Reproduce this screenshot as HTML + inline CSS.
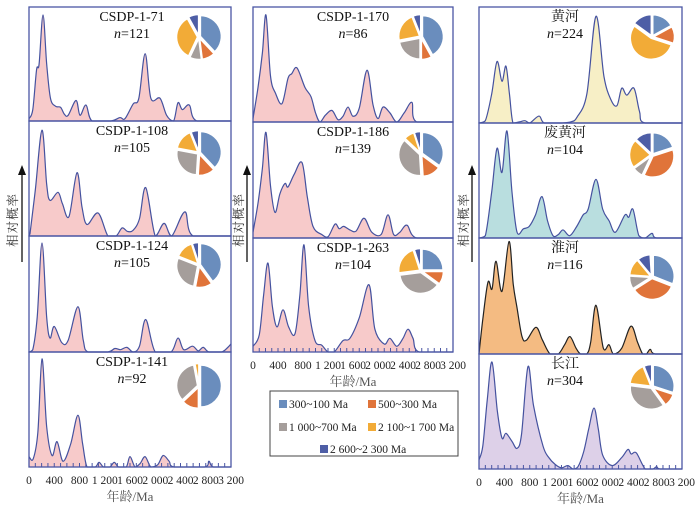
<!DOCTYPE html>
<html><head><meta charset="utf-8">
<style>
body{margin:0;background:#fff;}
svg{display:block;font-family:"Liberation Serif","Noto Serif CJK SC",serif;}
</style></head>
<body>
<svg id="fig" width="700" height="514" viewBox="0 0 700 514" xmlns="http://www.w3.org/2000/svg"></svg>
<script>
// ---- data: ages (Ma) and relative probability (0..1 of panel height) ----
const ages71=[0,60,120,160,222,280,340,420,500,560,620,745,808,903,1000,1300,1440,1520,1650,1740,1840,1930,2075,2180,2290,2360,2430,2540,2660,3200];
const vals71=[0.02,0.1,0.45,0.5,0.93,0.5,0.2,0.13,0.12,0.06,0.05,0.18,0.05,0.14,0,0,0.03,0.02,0.15,0.2,0.59,0.2,0.2,0.05,0,0.16,0.1,0.14,0,0];
const ages108=[0,16,100,206,280,333,460,530,634,760,840,920,1095,1250,1380,1475,1560,1650,1750,1850,2000,2140,2260,2470,2600,3200];
const vals108=[0,0.02,0.4,0.92,0.45,0.31,0.38,0.28,0.17,0.55,0.25,0.1,0.2,0,0,0.07,0.04,0.05,0.15,0.42,0,0.11,0,0.21,0,0];
const ages124=[0,60,130,206,280,333,400,520,620,775,860,935,1250,1360,1450,1550,1650,1750,1850,2000,2250,2360,2450,2590,2680,2760,2850,3050,3150,3200];
const vals124=[0,0.02,0.3,0.94,0.3,0.12,0.22,0.08,0.1,0.39,0.1,0,0,0.03,0.02,0.04,0,0.05,0.28,0,0,0.12,0.02,0.05,0.01,0.04,0,0,0.04,0.07];
const ages141=[0,66,140,206,280,365,444,540,660,775,850,920,1050,1110,1180,1280,1350,1420,1540,1600,1680,1760,1840,1930,2040,2125,2220,2300,2780,2850,2920,3200];
const vals141=[0.09,0.07,0.3,0.94,0.35,0.1,0.22,0.05,0.2,0.45,0.2,0,0,0.04,0,0,0.04,0,0,0.09,0,0.03,0.09,0,0.02,0.1,0.05,0,0,0.05,0,0];
const ages170=[0,80,150,208,280,360,464,560,620,704,832,928,1000,1072,1160,1264,1360,1440,1520,1600,1700,1824,1920,2000,2080,2190,2300,2420,2544,2620,3200];
const vals170=[0.03,0.3,0.6,0.93,0.4,0.25,0.16,0.38,0.42,0.47,0.3,0.22,0.08,0,0.06,0.1,0.02,0.05,0.13,0.05,0.12,0.45,0.15,0.03,0.13,0.08,0,0.08,0.17,0,0];
const ages186=[0,80,150,208,280,352,430,512,560,660,784,870,960,1100,1200,1312,1380,1450,1550,1650,1776,1900,2050,2160,2250,2350,2464,2620,3200];
const vals186=[0.05,0.3,0.6,0.91,0.45,0.22,0.38,0.47,0.44,0.55,0.65,0.35,0.1,0.03,0.01,0.12,0.08,0.1,0.07,0.06,0.17,0.05,0.03,0.2,0.03,0.05,0.11,0,0];
const ages263=[0,100,170,240,310,384,480,570,672,750,816,890,992,1100,1200,1300,1440,1550,1700,1856,1950,2100,2190,2300,2400,2480,2560,2660,3200];
const vals263=[0.05,0.15,0.5,0.78,0.4,0.22,0.37,0.22,0.16,0.5,0.94,0.4,0.1,0.06,0,0,0.1,0.12,0.3,0.59,0.2,0.07,0.12,0.05,0.12,0.2,0.12,0,0];
const agesHH=[0,100,200,284,362,425,480,536,640,725,800,946,1030,1300,1450,1545,1700,1844,1970,2080,2175,2250,2330,2443,2530,2617,3200];
const valsHH=[0,0.02,0.25,0.53,0.36,0.49,0.25,0,0.01,0.02,0,0.06,0,0,0.01,0.05,0.25,0.92,0.4,0.2,0.15,0.3,0.24,0.3,0.1,0,0];
const agesFHH=[0,100,200,284,362,441,520,600,700,790,890,993,1080,1167,1250,1325,1430,1540,1640,1720,1844,1950,2050,2150,2300,2360,2427,2520,2620,2727,2800,3200];
const valsFHH=[0,0.02,0.4,0.78,0.57,0.93,0.4,0.05,0.08,0.1,0.2,0.36,0.15,0.02,0.03,0.07,0.02,0.1,0.2,0.25,0.51,0.25,0.15,0.05,0.2,0.18,0.25,0.02,0,0.04,0,0];
const agesHuai=[0,60,142,205,268,362,473,540,599,678,750,899,1000,1120,1250,1350,1434,1530,1600,1700,1760,1844,1960,2050,2120,2250,2396,2500,2580,2640,2700,2780,3200];
const valsHuai=[0,0.3,0.62,0.56,0.8,0.54,0.97,0.6,0.4,0.15,0.12,0.23,0.12,0,0,0.08,0.15,0.05,0,0,0.1,0.42,0.05,0.08,0,0.05,0.24,0.1,0,0,0.04,0,0];
const agesCJ=[0,60,130,205,290,362,425,520,600,670,772,860,1009,1100,1200,1300,1400,1480,1560,1650,1730,1813,1880,1950,2100,2250,2348,2400,2480,2620,2740,2800,2860,3200];
const valsCJ=[0.08,0.2,0.6,0.93,0.5,0.27,0.31,0.24,0.18,0.3,0.89,0.55,0.2,0.1,0.04,0.01,0.03,0,0.02,0.15,0.35,0.53,0.35,0.12,0.03,0.1,0.17,0.13,0.14,0,0,0.02,0,0];
// pie fractions: 300~100, 500~300, 1000~700, 2100~1700, 2600~2300
const pie71=[0.38,0.10,0.09,0.35,0.08];
const pie108=[0.38,0.13,0.27,0.16,0.06];
const pie124=[0.40,0.13,0.28,0.14,0.05];
const pie141=[0.50,0.13,0.34,0.03,0.0];
const pie170=[0.42,0.08,0.22,0.22,0.06];
const pie186=[0.35,0.14,0.38,0.08,0.05];
const pie263=[0.25,0.10,0.38,0.22,0.05];
const pieHH=[0.17,0.13,0.0,0.55,0.15];
const pieFHH=[0.20,0.37,0.08,0.22,0.13];
const pieHuai=[0.31,0.35,0.10,0.13,0.10];
const pieCJ=[0.30,0.10,0.37,0.17,0.06];
const tickLabels=["0","400","800","1 200","1 600","2 000","2 400","2 800","3 200"];
const legendLabels=["300~100 Ma","500~300 Ma","1 000~700 Ma","2 100~1 700 Ma","2 600~2 300 Ma"];
const pieColors=["#6a8dbd","#e0743a","#a59e9b","#f2ab37","#4e5ea6"];

const NS="http://www.w3.org/2000/svg";
const svg=document.getElementById('fig');
function mk(tag,attrs,parent){const e=document.createElementNS(NS,tag);for(const k in attrs)e.setAttribute(k,attrs[k]);(parent||svg).appendChild(e);return e;}

const cols=[{x0:29,x1:231},{x0:253,x1:453},{x0:479,x1:682}];
const panels=[
 {c:0,y0:7,y1:121,t:"CSDP-1-71",n:"121",a:ages71,v:vals71,p:pie71,fill:"#f7caca",stroke:"#45529f",pc:[199,37],name:"csdp-1-71"},
 {c:0,y0:121,y1:236,t:"CSDP-1-108",n:"105",a:ages108,v:vals108,p:pie108,fill:"#f7caca",stroke:"#45529f",pc:[199,153],name:"csdp-1-108"},
 {c:0,y0:236,y1:352,t:"CSDP-1-124",n:"105",a:ages124,v:vals124,p:pie124,fill:"#f7caca",stroke:"#45529f",pc:[199,265],name:"csdp-1-124"},
 {c:0,y0:352,y1:467,t:"CSDP-1-141",n:"92",a:ages141,v:vals141,p:pie141,fill:"#f7caca",stroke:"#45529f",pc:[199,386],name:"csdp-1-141"},
 {c:1,y0:7,y1:122,t:"CSDP-1-170",n:"86",a:ages170,v:vals170,p:pie170,fill:"#f7caca",stroke:"#45529f",pc:[421,37],name:"csdp-1-170"},
 {c:1,y0:122,y1:238,t:"CSDP-1-186",n:"139",a:ages186,v:vals186,p:pie186,fill:"#f7caca",stroke:"#45529f",pc:[421,154],name:"csdp-1-186"},
 {c:1,y0:238,y1:352,t:"CSDP-1-263",n:"104",a:ages263,v:vals263,p:pie263,fill:"#f7caca",stroke:"#45529f",pc:[421,271],name:"csdp-1-263"},
 {c:2,y0:7,y1:123,t:"黄河",n:"224",a:agesHH,v:valsHH,p:pieHH,fill:"#f7efc6",stroke:"#45529f",pc:[652,37],name:"yellow-river"},
 {c:2,y0:123,y1:238,t:"废黄河",n:"104",a:agesFHH,v:valsFHH,p:pieFHH,fill:"#b9dedf",stroke:"#45529f",pc:[652,155],name:"abandoned-yellow-river"},
 {c:2,y0:238,y1:354,t:"淮河",n:"116",a:agesHuai,v:valsHuai,p:pieHuai,fill:"#f4bb82",stroke:"#222",pc:[652,277],name:"huai-river"},
 {c:2,y0:354,y1:469,t:"长江",n:"304",a:agesCJ,v:valsCJ,p:pieCJ,fill:"#ddd0e8",stroke:"#45529f",pc:[652,387],name:"yangtze-river"}
];
const titleX=[132,353,565];

function xScale(col,age){return col.x0+(age/3200)*(col.x1-col.x0);}
function yScale(p,v){return p.y1-v*(p.y1-p.y0);}

panels.forEach(p=>{
  const col=cols[p.c];
  const g=mk('g',{});
  
  
  const pts=p.a.map((a,i)=>[xScale(col,a),yScale(p,p.v[i])]);
  let d="M"+pts[0][0]+","+pts[0][1];
  for(let i=0;i<pts.length-1;i++){
    const p0=pts[Math.max(0,i-1)],p1=pts[i],p2=pts[i+1],p3=pts[Math.min(pts.length-1,i+2)];
    const c1x=p1[0]+(p2[0]-p0[0])/6,c1y=Math.min(p.y1,p1[1]+(p2[1]-p0[1])/6);
    const c2x=p2[0]-(p3[0]-p1[0])/6,c2y=Math.min(p.y1,p2[1]-(p3[1]-p1[1])/6);
    d+=" C"+c1x+","+c1y+" "+c2x+","+c2y+" "+p2[0]+","+p2[1];
  }
  const area=mk('path',{d:d+" L"+col.x1+","+p.y1+" L"+col.x0+","+p.y1+" Z",fill:p.fill,stroke:"none"},g);
  
  
  const line=mk('path',{d:d,fill:"none",stroke:p.stroke,"stroke-width":1.2},g);
  
  
  const border=mk('rect',{x:col.x0,y:p.y0,width:col.x1-col.x0,height:p.y1-p.y0,fill:"none",stroke:"#4a56a4","stroke-width":1.3},g);
  
  
  const tt=mk('text',{x:titleX[p.c],y:p.y0+14,"font-size":14,"text-anchor":"middle",fill:"#111"},g);
  tt.textContent=p.t;
  
  
  const nt=mk('text',{x:titleX[p.c],y:p.y0+31,"font-size":14,"text-anchor":"middle",fill:"#111"},g);
  nt.innerHTML='<tspan font-style="italic">n</tspan>='+p.n;
  
  
  // pie
  const [cx,cy]=p.pc;const r=21;let acc=0;
  p.p.forEach((f,i)=>{
    if(f<=0){return;}
    const a0=acc*2*Math.PI,a1=(acc+f)*2*Math.PI;acc+=f;
    const mid=(a0+a1)/2,off=1.5;
    const ox=cx+off*Math.sin(mid),oy=cy-off*Math.cos(mid);
    const x0=ox+r*Math.sin(a0),y0=oy-r*Math.cos(a0),x1=ox+r*Math.sin(a1),y1=oy-r*Math.cos(a1);
    const s=mk('path',{d:`M${ox},${oy} L${x0},${y0} A${r},${r} 0 ${f>0.5?1:0} 1 ${x1},${y1} Z`,fill:pieColors[i],stroke:"#fff","stroke-width":1.5},g);
    
    
  });
});

// x axes
[[0,467],[1,352],[2,469]].forEach(([c,y])=>{
  const col=cols[c];
  const g=mk('g',{});
  
  
  for(let a=0;a<=3200;a+=100){
    const x=xScale(col,a);
    mk('line',{x1:x,x2:x,y1:y,y2:y-4,stroke:"#4a56a4","stroke-width":1},g);
  }
  tickLabels.forEach((lab,i)=>{
    const t=mk('text',{x:xScale(col,i*400),y:y+17,"font-size":11.5,"text-anchor":"middle",fill:"#222"},g);
    t.textContent=lab;
    
    
  });
  const tt=mk('text',{x:(col.x0+col.x1)/2,y:y+34,"font-size":13,"text-anchor":"middle",fill:"#555"},g);
  tt.textContent="年龄/Ma";
  
  
});

// y labels with arrows
[[22,13],[247,239],[472,464]].forEach(([ax,tx])=>{
  const g=mk('g',{});
  
  
  mk('line',{x1:ax,x2:ax,y1:262,y2:172,stroke:"#111","stroke-width":1.3},g);
  mk('path',{d:`M${ax-4},${175} L${ax},${165} L${ax+4},${175} Z`,fill:"#111"},g);
  const t=mk('text',{x:tx,y:220,"font-size":12.5,"text-anchor":"middle",fill:"#333",transform:`rotate(-90 ${tx} 220)`,"dominant-baseline":"central","letter-spacing":"1"},g);
  t.textContent="相对概率";
});

// legend
const lg=mk('g',{});


mk('rect',{x:270,y:391,width:188,height:65,fill:"#fff",stroke:"#444","stroke-width":1},lg);
const lpos=[[279,404],[368,404],[279,427],[368,427],[320,449]];
legendLabels.forEach((lab,i)=>{
  const [x,y]=lpos[i];
  const e=mk('g',{},lg);
  
  
  mk('rect',{x:x,y:y-4,width:8,height:8,fill:pieColors[i]},e);
  const t=mk('text',{x:x+10,y:y+4,"font-size":11.5,fill:"#222"},e);
  t.textContent=lab;
});
</script>
</body></html>
